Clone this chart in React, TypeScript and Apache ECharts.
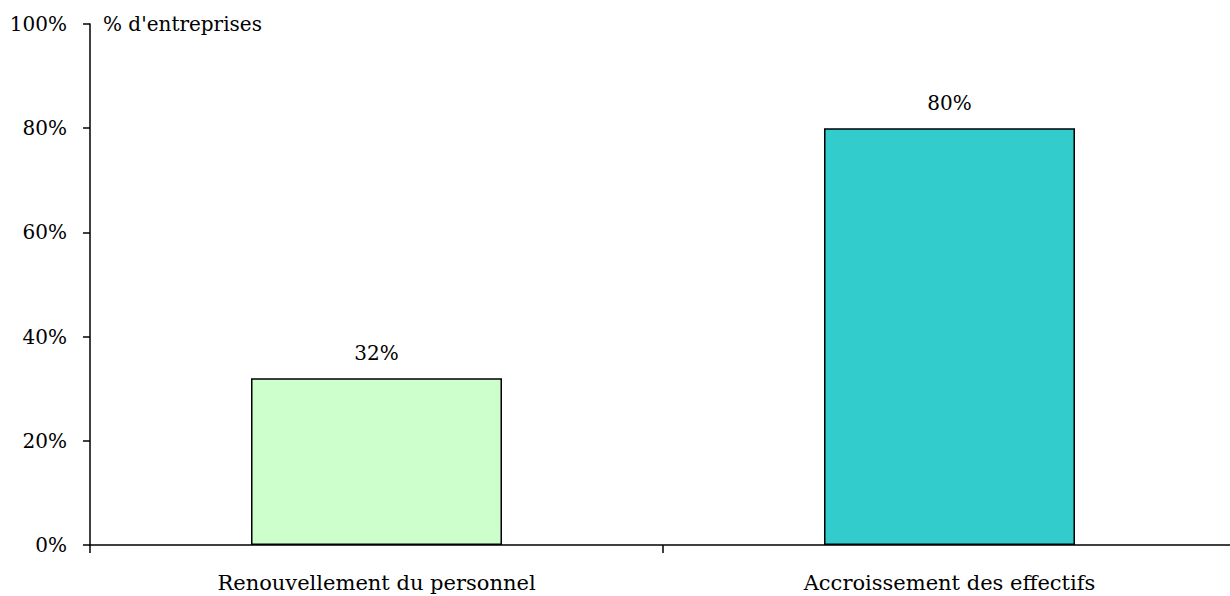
import React, { useEffect, useRef } from "react";
import * as echarts from "echarts";

const categories = ["Renouvellement du personnel", "Accroissement des effectifs"];
const values = [32, 80];
const barColors = ["#CCFFCC", "#33CCCC"];
const yTicks = [0, 20, 40, 60, 80, 100];
const yAxisTitle = "% d'entreprises";

const FONT = "DejaVu Serif";
const FS = 20;

export default function App() {
  const ref = useRef<HTMLDivElement>(null);
  useEffect(() => {
    if (!ref.current) return;
    const chart = echarts.init(ref.current, null, { renderer: "svg" });
    chart.setOption({
      animation: false,
      textStyle: { fontFamily: FONT, fontSize: FS },
      grid: { left: 90, right: 0, top: 24, bottom: 51, containLabel: false },
      graphic: [
        {
          type: "text",
          left: 103,
          top: 14,
          style: { text: yAxisTitle, fontFamily: FONT, fontSize: FS, fill: "#000" },
        },
      ],
      xAxis: {
        type: "category",
        data: categories,
        axisLine: { lineStyle: { color: "#000", width: 1.5 } },
        axisTick: { show: true, length: 8, lineStyle: { color: "#000", width: 1.5 } },
        axisLabel: { color: "#000", fontSize: 21, fontFamily: FONT, margin: 27 },
      },
      yAxis: {
        type: "value",
        min: 0,
        max: 100,
        interval: 20,
        splitLine: { show: false },
        axisLine: { show: true, lineStyle: { color: "#000", width: 1.5 } },
        axisTick: { show: true, length: 7, lineStyle: { color: "#000", width: 1.5 } },
        axisLabel: {
          color: "#000",
          fontSize: FS,
          fontFamily: FONT,
          margin: 23,
          formatter: (v: number) => (yTicks.includes(v) ? v + "%" : ""),
        },
      },
      series: [
        {
          type: "bar",
          barWidth: "43.8%",
          data: values.map((v, i) => ({
            value: v,
            itemStyle: { color: barColors[i], borderColor: "#000", borderWidth: 1.5 },
          })),
          label: {
            show: true,
            position: "top",
            distance: 15,
            color: "#000",
            fontSize: FS,
            fontFamily: FONT,
            formatter: (p: any) => p.value + "%",
          },
        },
      ],
    });
    return () => chart.dispose();
  }, []);
  return (
    <div style={{ position: "absolute", left: 0, top: 0, width: 1230, height: 596, overflow: "hidden", background: "#fff" }}>
      <div ref={ref} style={{ width: 1236, height: 596 }} />
    </div>
  );
}
